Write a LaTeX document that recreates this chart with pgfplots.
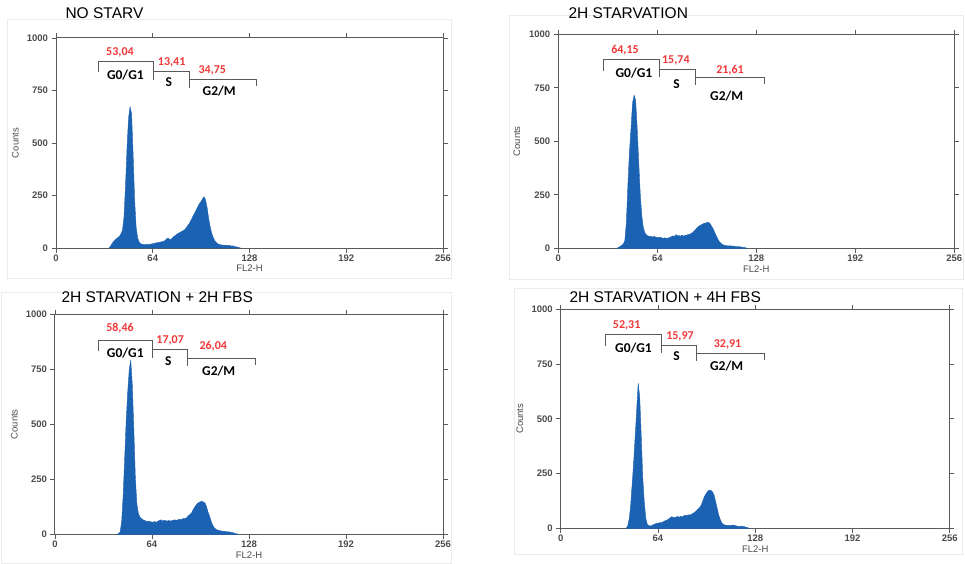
\documentclass[border=0pt]{standalone}
\usepackage{pgfplots}
\pgfplotsset{compat=1.18}
\usepackage{fontspec}
\setmainfont{Liberation Sans}
\newfontfamily\gatefont{Carlito}
\definecolor{histblue}{RGB}{28,98,178}
\definecolor{framegray}{RGB}{90,90,90}
\definecolor{gatered}{RGB}{240,55,55}
\definecolor{ticktext}{RGB}{75,75,75}
\definecolor{panelgray}{RGB}{235,235,235}

\pgfplotsset{facs/.style={
  scale only axis, xmin=0,xmax=256,ymin=0,ymax=1000,
  xtick={0,64,128,192,256}, ytick={0,250,500,750,1000},
  tick align=outside, major tick length=4.5pt,
  tick style={framegray, line width=0.9pt},
  axis line style={framegray, line width=1pt},
  ticklabel style={font=\bfseries\fontsize{9.5}{10}\selectfont, text=ticktext},
  xticklabel style={yshift=1pt},
  /pgf/number format/assume math mode=true,
  /pgf/number format/set thousands separator={},
  xlabel={FL2-H}, ylabel={Counts},
  label style={font=\fontsize{9.5}{10}\selectfont, text=ticktext},
  xlabel style={at={(axis description cs:0.5,-0.097)}, anchor=center},
  ylabel style={at={(axis description cs:-0.105,0.5)}, anchor=center},
  clip=false,
},
histfill/.style={sharp plot, fill=histblue, draw=histblue, line width=0.4pt, line join=round},
}
\tikzset{
  gate/.style={framegray, line width=1pt},
  pct/.style={font=\gatefont\bfseries\fontsize{12}{12}\selectfont, text=gatered, anchor=center},
  phase/.style={font=\gatefont\bfseries\fontsize{13.5}{14}\selectfont, text=black, anchor=center},
  ttl/.style={font=\fontsize{15.5}{16}\selectfont, anchor=base west},
}

\begin{document}
\begin{tikzpicture}
\path[use as bounding box] (0pt,0pt) rectangle (965pt,-564pt);
% faint panel frames
\draw[panelgray, line width=0.8pt] (7pt,-19pt) rectangle (451pt,-278pt);
\draw[panelgray, line width=0.8pt] (509pt,-15pt) rectangle (963pt,-279pt);
\draw[panelgray, line width=0.8pt] (1pt,-292pt) rectangle (451pt,-563pt);
\draw[panelgray, line width=0.8pt] (514pt,-288pt) rectangle (962pt,-554pt);

\node[ttl] at (62pt,-18.3pt) {NO STARV};
\node[ttl] at (565pt,-19pt) {2H STARVATION};
\node[ttl] at (58pt,-302.3pt) {2H STARVATION + 2H FBS};
\node[ttl] at (566pt,-302.3pt) {2H STARVATION + 4H FBS};

% ---------- Panel 1 ----------
\begin{axis}[facs, at={(56pt,-248pt)}, anchor=south west, width=387pt, height=210pt]
\addplot[histfill] coordinates {
(35,0)(36,8)(37,20)(38,30)(39,38)(40,44)(41,50)(42,56)(43,68)(44,85)(45,150)(46,300)(47,480)(48,620)(49,673)(50,640)(51,450)(52,230)(53,100)(54,48)(55,28)(56,20)(57,18)(58,17)(59,16)(60,17)(61,18)(62,17)(63,19)(64,20)(65,22)(66,24)(67,25)(68,27)(69,28)(70,30)(71,31)(72,35)(73,42)(74,48)(75,42)(76,40)(77,48)(78,55)(79,60)(80,66)(81,70)(82,74)(83,78)(84,82)(85,86)(86,95)(87,105)(88,115)(89,128)(90,142)(91,158)(92,170)(93,185)(94,200)(95,212)(96,222)(97,235)(98,244)(99,228)(100,190)(101,140)(102,100)(103,70)(104,50)(105,35)(106,26)(107,20)(108,17)(109,15)(110,14)(111,12)(112,14)(113,11)(114,13)(115,12)(116,9)(117,10)(118,7)(119,6)(120,4)(121,2)(122,0)
} \closedcycle;
\draw[gate] (axis cs:28,836)--(axis cs:28,886)--(axis cs:64.8,886)--(axis cs:64.8,800);
\draw[gate] (axis cs:64.8,839)--(axis cs:88,839)--(axis cs:88,762);
\draw[gate] (axis cs:88,800)--(axis cs:132.8,800)--(axis cs:132.8,771);
\node[pct] at (axis cs:42.3,930) {53,04};
\node[pct] at (axis cs:76.5,882) {13,41};
\node[pct] at (axis cs:103.4,844) {34,75};
\node[phase] at (axis cs:45.9,824) {G0/G1};
\node[phase] at (axis cs:74.7,789) {S};
\node[phase] at (axis cs:108,748) {G2/M};
\end{axis}

% ---------- Panel 2 ----------
\begin{axis}[facs, at={(558.3pt,-248.3pt)}, anchor=south west, width=396pt, height=214pt]
\addplot[histfill] coordinates {
(38,0)(39,5)(40,9)(41,14)(42,20)(43,35)(44,120)(45,300)(46,450)(47,560)(48,680)(49,716)(50,690)(51,560)(52,400)(53,250)(54,150)(55,95)(56,72)(57,62)(58,58)(59,56)(60,55)(61,53)(62,56)(63,52)(64,51)(65,50)(66,52)(67,48)(68,47)(69,49)(70,46)(71,48)(72,50)(73,54)(74,58)(75,55)(76,64)(77,58)(78,60)(79,56)(80,62)(81,57)(82,60)(83,62)(84,64)(85,66)(86,70)(87,74)(88,82)(89,90)(90,98)(91,104)(92,108)(93,112)(94,116)(95,118)(96,120)(97,122)(98,116)(99,104)(100,92)(101,76)(102,60)(103,45)(104,32)(105,24)(106,18)(107,15)(108,13)(109,12)(110,11)(111,12)(112,10)(113,11)(114,9)(115,8)(116,7)(117,8)(118,6)(119,5)(120,4)(121,3)(122,0)
} \closedcycle;
\draw[gate] (axis cs:29.1,830)--(axis cs:29.1,883)--(axis cs:65.3,883)--(axis cs:65.3,802);
\draw[gate] (axis cs:65.3,835)--(axis cs:88.4,835)--(axis cs:88.4,763);
\draw[gate] (axis cs:88.4,797)--(axis cs:133,797)--(axis cs:133,766);
\node[pct] at (axis cs:43.1,926) {64,15};
\node[pct] at (axis cs:76,880) {15,74};
\node[pct] at (axis cs:111,830) {21,61};
\node[phase] at (axis cs:48.9,817) {G0/G1};
\node[phase] at (axis cs:76.5,766) {S};
\node[phase] at (axis cs:108.9,713) {G2/M};
\end{axis}

% ---------- Panel 3 ----------
\begin{axis}[facs, at={(55pt,-534.3pt)}, anchor=south west, width=388pt, height=220pt]
\addplot[histfill] coordinates {
(41,0)(42,4)(43,10)(44,60)(45,180)(46,350)(47,520)(48,650)(49,750)(50,792)(51,680)(52,480)(53,260)(54,140)(55,95)(56,78)(57,72)(58,66)(59,64)(60,60)(61,58)(62,60)(63,57)(64,55)(65,56)(66,58)(67,54)(68,60)(69,63)(70,66)(71,60)(72,64)(73,62)(74,60)(75,63)(76,60)(77,62)(78,64)(79,66)(80,63)(81,66)(82,68)(83,66)(84,70)(85,72)(86,72)(87,76)(88,84)(89,90)(90,96)(91,110)(92,122)(93,132)(94,140)(95,145)(96,148)(97,150)(98,146)(99,142)(100,125)(101,100)(102,82)(103,60)(104,42)(105,30)(106,24)(107,20)(108,18)(109,16)(110,15)(111,14)(112,13)(113,12)(114,11)(115,11)(116,9)(117,8)(118,6)(119,4)(120,2)(121,0)
} \closedcycle;
\draw[gate] (axis cs:28.6,833)--(axis cs:28.6,883)--(axis cs:64.2,883)--(axis cs:64.2,803);
\draw[gate] (axis cs:64.2,838)--(axis cs:87.2,838)--(axis cs:87.2,765);
\draw[gate] (axis cs:87.2,797)--(axis cs:132.6,797)--(axis cs:132.6,769);
\node[pct] at (axis cs:42.9,936) {58,46};
\node[pct] at (axis cs:76,883) {17,07};
\node[pct] at (axis cs:104.4,853) {26,04};
\node[phase] at (axis cs:46.4,823) {G0/G1};
\node[phase] at (axis cs:74.8,788) {S};
\node[phase] at (axis cs:108,744) {G2/M};
\end{axis}

% ---------- Panel 4 ----------
\begin{axis}[facs, at={(560.7pt,-528.3pt)}, anchor=south west, width=389pt, height=219pt]
\addplot[histfill] coordinates {
(43,0)(44,8)(45,40)(46,100)(47,200)(48,300)(49,420)(50,540)(51,662)(52,600)(53,420)(54,230)(55,120)(56,45)(57,18)(58,12)(59,11)(60,13)(61,16)(62,20)(63,22)(64,24)(65,25)(66,26)(67,28)(68,32)(69,35)(70,38)(71,42)(72,48)(73,53)(74,50)(75,48)(76,52)(77,54)(78,50)(79,55)(80,52)(81,57)(82,60)(83,58)(84,62)(85,60)(86,64)(87,68)(88,72)(89,78)(90,85)(91,92)(92,100)(93,115)(94,135)(95,150)(96,162)(97,170)(98,175)(99,172)(100,165)(101,150)(102,120)(103,90)(104,60)(105,40)(106,25)(107,18)(108,15)(109,14)(110,13)(111,14)(112,12)(113,15)(114,14)(115,12)(116,10)(117,9)(118,8)(119,10)(120,8)(121,7)(122,5)(123,3)(124,0)
} \closedcycle;
\draw[gate] (axis cs:29.8,832)--(axis cs:29.8,883)--(axis cs:66.2,883)--(axis cs:66.2,799);
\draw[gate] (axis cs:66.2,834)--(axis cs:89.3,834)--(axis cs:89.3,764);
\draw[gate] (axis cs:89.3,796)--(axis cs:133.8,796)--(axis cs:133.8,767);
\node[pct] at (axis cs:43.4,928) {52,31};
\node[pct] at (axis cs:78.5,875) {15,97};
\node[pct] at (axis cs:109.8,841) {32,91};
\node[phase] at (axis cs:47.9,822) {G0/G1};
\node[phase] at (axis cs:76.3,787) {S};
\node[phase] at (axis cs:109.2,742) {G2/M};
\end{axis}
\end{tikzpicture}
\end{document}
